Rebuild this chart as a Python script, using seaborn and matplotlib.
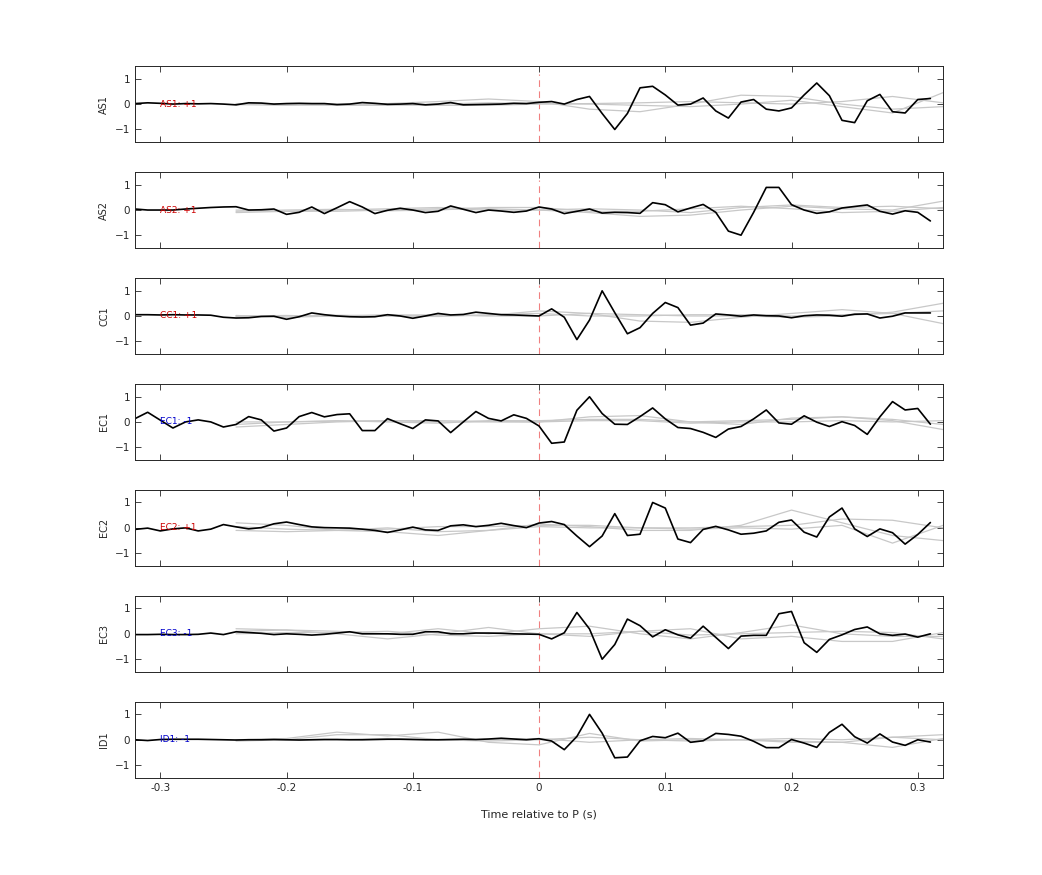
import numpy as np
import seaborn as sns
import matplotlib.pyplot as plt

# time axis, 10 ms sampling
time = np.round(np.arange(-0.32, 0.315, 0.01), 2)
gray_time = np.round(np.arange(-0.24, 0.33, 0.04), 2)

stations = ["AS1", "AS2", "CC1", "EC1", "EC2", "EC3", "ID1"]
polarity = ["+1", "+1", "+1", "-1", "+1", "-1", "-1"]

as1 = [0.02, 0.05, 0.03, 0.0, 0.02, 0.01, 0.02, 0.0, -0.03, 0.05, 0.04, 0.0, 0.02, 0.03, 0.02, 0.02,
       -0.02, 0.0, 0.06, 0.03, -0.01, 0.0, 0.02, -0.03, 0.0, 0.06, -0.03, -0.02, -0.01, 0.0, 0.03, 0.02,
       0.07, 0.1, 0.0, 0.18, 0.3, -0.37, -1.0, -0.37, 0.64, 0.7, 0.36, -0.04, 0.0, 0.24, -0.27, -0.55,
       0.08, 0.18, -0.2, -0.27, -0.15, 0.36, 0.83, 0.33, -0.64, -0.73, 0.13, 0.38, -0.3, -0.35, 0.18, 0.22]
as2 = [0.04, 0.0, 0.0, 0.0, 0.04, 0.07, 0.1, 0.12, 0.13, 0.0, 0.01, 0.04, -0.17, -0.09, 0.12, -0.14,
       0.09, 0.33, 0.12, -0.14, -0.01, 0.07, 0.0, -0.1, -0.05, 0.16, 0.03, -0.1, 0.0, -0.04, -0.09, -0.04,
       0.12, 0.04, -0.14, -0.05, 0.04, -0.12, -0.09, -0.1, -0.13, 0.29, 0.21, -0.07, 0.08, 0.22, -0.09, -0.83,
       -0.99, -0.09, 0.89, 0.89, 0.21, 0.0, -0.13, -0.07, 0.08, 0.14, 0.2, -0.05, -0.16, -0.03, -0.09, -0.43]
cc1 = [0.05, 0.05, 0.04, 0.05, 0.04, 0.04, 0.03, -0.05, -0.08, -0.07, -0.02, -0.01, -0.13, -0.03, 0.12, 0.05,
       0.0, -0.03, -0.04, -0.03, 0.05, 0.0, -0.09, 0.0, 0.1, 0.04, 0.06, 0.15, 0.1, 0.05, 0.04, 0.02,
       0.0, 0.28, -0.05, -0.93, -0.16, 0.99, 0.13, -0.7, -0.46, 0.1, 0.53, 0.33, -0.36, -0.28, 0.08, 0.04,
       -0.01, 0.04, 0.01, 0.0, -0.07, 0.01, 0.04, 0.03, -0.01, 0.07, 0.08, -0.08, -0.01, 0.12, 0.12, 0.12]
ec1 = [0.13, 0.38, 0.07, -0.24, 0.0, 0.08, 0.0, -0.2, -0.1, 0.21, 0.08, -0.36, -0.24, 0.21, 0.37, 0.2,
       0.29, 0.32, -0.34, -0.34, 0.13, -0.07, -0.26, 0.08, 0.04, -0.42, 0.0, 0.41, 0.14, 0.04, 0.28, 0.14,
       -0.16, -0.84, -0.79, 0.46, 0.99, 0.33, -0.09, -0.1, 0.21, 0.55, 0.12, -0.22, -0.26, -0.41, -0.61, -0.28,
       -0.18, 0.12, 0.47, -0.04, -0.09, 0.24, -0.01, -0.18, 0.01, -0.14, -0.49, 0.2, 0.8, 0.47, 0.53, -0.09]
ec2 = [-0.06, -0.01, -0.12, -0.04, 0.0, -0.12, -0.05, 0.13, 0.04, -0.04, 0.01, 0.16, 0.23, 0.13, 0.04, 0.01,
       0.0, -0.01, -0.05, -0.1, -0.18, -0.08, 0.03, -0.08, -0.1, 0.08, 0.12, 0.05, 0.1, 0.18, 0.09, 0.01,
       0.19, 0.25, 0.13, -0.32, -0.74, -0.32, 0.56, -0.3, -0.25, 1.0, 0.78, -0.44, -0.58, -0.06, 0.06, -0.08,
       -0.25, -0.21, -0.12, 0.22, 0.31, -0.17, -0.36, 0.43, 0.78, -0.04, -0.34, -0.04, -0.19, -0.64, -0.26, 0.21]
ec3 = [-0.03, -0.03, -0.02, -0.03, -0.03, -0.02, 0.03, -0.03, 0.08, 0.05, 0.02, -0.03, 0.0, -0.02, -0.05, -0.02,
       0.03, 0.08, 0.0, 0.0, 0.0, -0.02, -0.02, 0.08, 0.08, 0.0, 0.0, 0.03, 0.03, 0.02, 0.0, -0.01,
       -0.02, -0.2, 0.04, 0.84, 0.19, -1.0, -0.42, 0.58, 0.32, -0.12, 0.16, -0.04, -0.17, 0.3, -0.14, -0.58,
       -0.09, -0.06, -0.06, 0.79, 0.88, -0.35, -0.73, -0.22, -0.04, 0.17, 0.27, 0.0, -0.06, -0.01, -0.13, 0.0]
id1 = [0.0, -0.03, 0.01, 0.02, 0.02, 0.02, 0.01, 0.0, -0.01, 0.0, 0.0, 0.01, 0.0, -0.01, 0.0, 0.01,
       0.01, 0.0, 0.0, 0.01, 0.02, 0.02, 0.01, 0.0, 0.0, 0.01, 0.02, 0.01, 0.03, 0.06, 0.03, 0.0,
       0.04, -0.05, -0.39, 0.13, 1.0, 0.26, -0.71, -0.68, -0.04, 0.13, 0.08, 0.26, -0.1, -0.04, 0.25, 0.21,
       0.14, -0.06, -0.31, -0.31, 0.01, -0.13, -0.3, 0.29, 0.61, 0.12, -0.13, 0.23, -0.09, -0.22, 0.0, -0.09]
black_traces = [as1, as2, cc1, ec1, ec2, ec3, id1]

# smooth synthetic comparison traces (gray), sampled every 40 ms
gray_traces = [
    [[-0.02, -0.05, -0.03, 0.02, 0.1, 0.2, 0.1, -0.2, -0.3, 0.0, 0.35, 0.3, 0.0, -0.2, -0.1],
     [0.0, 0.02, 0.0, -0.03, -0.05, -0.05, 0.0, 0.02, 0.05, 0.1, 0.05, 0.0, 0.1, 0.3, 0.05],
     [0.02, 0.0, -0.05, -0.05, 0.0, 0.05, 0.02, 0.0, -0.05, -0.1, 0.0, 0.15, -0.1, -0.35, 0.45]],
    [[-0.1, -0.05, 0.0, 0.05, 0.1, 0.05, 0.0, -0.1, -0.25, -0.2, 0.0, 0.15, 0.05, 0.0, 0.35],
     [-0.05, 0.0, 0.03, -0.03, 0.0, 0.1, 0.1, -0.05, -0.05, 0.05, 0.15, 0.05, -0.1, -0.05, 0.1],
     [0.0, -0.05, -0.05, 0.0, 0.05, 0.0, 0.0, 0.05, 0.0, -0.1, 0.1, 0.2, 0.1, 0.15, 0.05]],
    [[0.02, -0.05, 0.0, 0.05, 0.02, 0.02, 0.2, 0.1, -0.2, -0.25, -0.05, 0.1, 0.25, 0.1, -0.3],
     [0.0, 0.02, -0.02, 0.0, 0.05, 0.0, 0.0, 0.1, 0.05, 0.0, 0.0, -0.05, 0.0, 0.15, 0.5],
     [-0.02, 0.0, 0.03, 0.0, -0.02, 0.05, 0.1, 0.0, 0.0, 0.05, 0.05, 0.0, 0.05, 0.1, 0.2]],
    [[-0.2, -0.1, 0.0, 0.05, 0.05, 0.02, 0.0, 0.2, 0.25, 0.0, -0.1, 0.15, 0.2, 0.05, -0.3],
     [-0.1, 0.0, 0.05, 0.0, -0.05, 0.05, 0.05, 0.1, 0.1, 0.0, 0.05, 0.1, 0.2, 0.1, -0.1],
     [0.0, 0.0, 0.03, 0.05, 0.0, 0.0, 0.0, 0.05, 0.05, -0.05, 0.0, 0.0, 0.05, 0.0, 0.05]],
    [[0.2, 0.1, -0.1, -0.15, -0.3, -0.1, 0.15, 0.05, -0.1, -0.1, 0.1, 0.7, 0.2, -0.3, -0.5],
     [0.05, -0.05, -0.1, -0.05, 0.05, 0.05, 0.1, 0.1, 0.0, 0.0, 0.05, 0.1, 0.35, 0.3, 0.0],
     [-0.1, -0.15, -0.1, 0.0, -0.15, -0.1, 0.05, 0.0, 0.0, -0.05, 0.0, -0.05, 0.1, -0.6, 0.1]],
    [[0.2, 0.15, 0.1, 0.0, 0.2, 0.0, 0.2, 0.3, 0.0, -0.2, 0.05, 0.35, 0.0, -0.1, -0.1],
     [0.1, 0.15, 0.0, -0.2, 0.0, 0.25, 0.0, -0.1, 0.1, 0.2, -0.2, -0.1, -0.3, -0.3, 0.05],
     [0.0, 0.05, 0.05, 0.1, -0.05, -0.1, 0.0, 0.0, 0.1, -0.05, 0.0, 0.05, 0.1, 0.05, -0.2]],
    [[0.0, 0.05, 0.3, 0.15, 0.3, -0.1, -0.2, 0.25, -0.05, 0.0, 0.0, -0.1, -0.1, 0.1, 0.2],
     [-0.05, 0.0, 0.2, 0.2, 0.0, 0.0, 0.05, -0.1, 0.0, 0.05, 0.0, -0.05, -0.1, -0.3, 0.05],
     [0.0, 0.0, 0.0, 0.05, 0.0, -0.05, 0.0, 0.1, 0.0, -0.05, 0.0, 0.05, 0.0, 0.1, 0.0]],
]

sns.set_style("ticks")
plt.rcParams["font.family"] = ["DejaVu Sans"]
plt.rcParams["xtick.direction"] = "in"
plt.rcParams["ytick.direction"] = "in"

fig, axes = plt.subplots(len(stations), 1, figsize=(10.42, 8.75), dpi=100, sharex=True)
fig.subplots_adjust(left=0.1296, right=0.905, top=0.9246, bottom=0.111, hspace=0.39)

for ax, name, pol, trace, grays in zip(axes, stations, polarity, black_traces, gray_traces):
    for g in grays:
        sns.lineplot(x=gray_time, y=g, ax=ax, color="#c8c8c8", linewidth=0.9)
    sns.lineplot(x=time, y=trace, ax=ax, color="black", linewidth=1.2)
    ax.axvline(0, color="#f08080", linestyle=(0, (6, 4)), linewidth=0.8, ymax=0.9, zorder=1)
    col = "#cc0000" if pol == "+1" else "#0000cc"
    ax.text(-0.3, 0, f"{name}: {pol}", color=col, fontsize=6.5, va="center", zorder=10)
    ax.set_xlim(-0.32, 0.32)
    ax.set_ylim(-1.5, 1.5)
    ax.set_yticks([-1, 0, 1])
    ax.set_ylabel(name, fontsize=7)
    ax.tick_params(labelsize=7.5, top=True, right=True, length=4, width=0.6)
    for s in ax.spines.values():
        s.set_linewidth(0.7)
        s.set_visible(True)

axes[-1].set_xticks([-0.3, -0.2, -0.1, 0, 0.1, 0.2, 0.3])
axes[-1].set_xticklabels(["-0.3", "-0.2", "-0.1", "0", "0.1", "0.2", "0.3"])
axes[-1].set_xlabel("Time relative to P (s)", fontsize=8, labelpad=12)

plt.savefig("out.png", dpi=100)
